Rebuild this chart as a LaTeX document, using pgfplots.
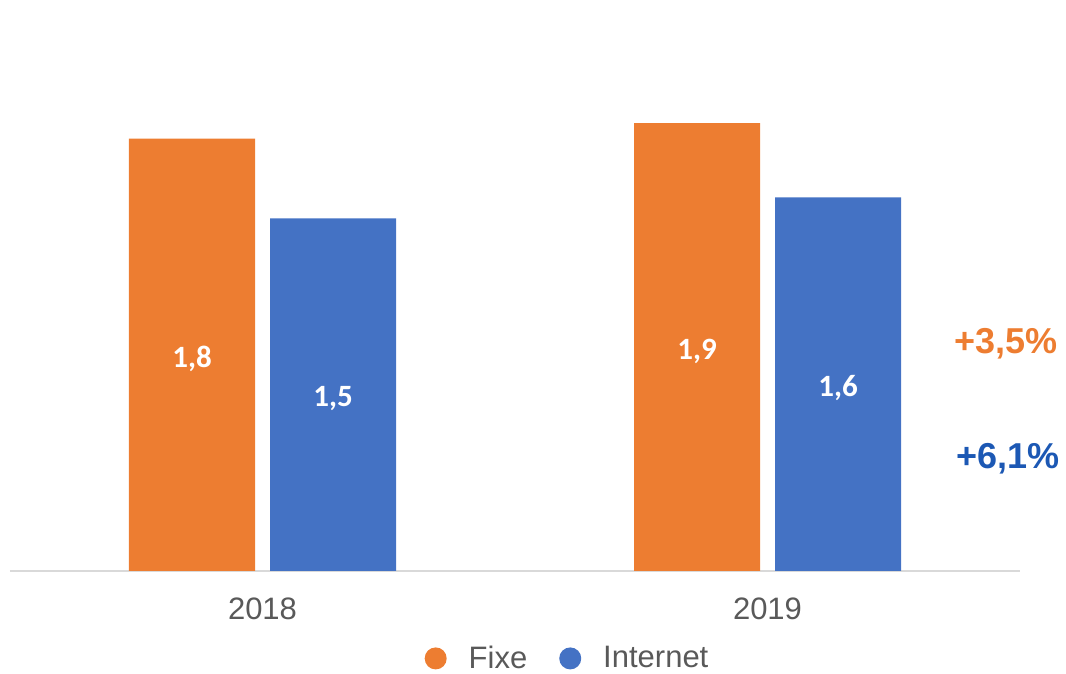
\documentclass[border=0pt]{standalone}
\usepackage{pgfplots}
\pgfplotsset{compat=1.18}
\usepackage{fontspec}
\setmainfont{Liberation Sans}
\newfontfamily\carlito{Carlito}
\definecolor{cFixe}{HTML}{ED7D31}
\definecolor{cNet}{HTML}{4472C4}
\definecolor{cNetTxt}{HTML}{1C58B4}
\definecolor{cTxt}{HTML}{595959}
\definecolor{cAx}{HTML}{D9D9D9}
\begin{document}
\begin{tikzpicture}
\path[use as bounding box] (0,0) rectangle (533pt,337pt);
\begin{axis}[
  at={(5pt,51.5pt)}, anchor=south west,
  scale only axis, width=505pt, height=282pt,
  xmin=-0.5, xmax=1.5, ymin=0, ymax=2.4,
  axis x line*=bottom, hide y axis,
  x axis line style={draw=cAx, line width=1pt, -},
  xtick={0,1}, xticklabels={2018,2019},
  major tick length=0pt,
  xticklabel style={font=\fontsize{15.5}{18}\selectfont, text=cTxt, yshift=-10pt},
  legend style={at={(0.553,-0.155)}, anchor=center, draw=none, fill=none,
    font=\fontsize{15.5}{18}\selectfont, text=cTxt, legend columns=2,
    /tikz/every odd column/.append style={column sep=9pt},
    /tikz/every even column/.append style={column sep=14pt}},
  legend image code/.code={\fill[#1] (3pt,0pt) circle (5.5pt);},
  clip=false,
]
\addplot[ybar, bar width=63pt, bar shift=-35.25pt, fill=cFixe, draw=none] coordinates {(0,1.84) (1,1.906)};
\addlegendentry{Fixe}
\addplot[ybar, bar width=63pt, bar shift=35.25pt, fill=cNet, draw=none] coordinates {(0,1.50) (1,1.59)};
\addlegendentry{Internet}
\addplot[draw=none, mark=none, forget plot, nodes near coords, point meta=explicit,
  nodes near coords={\pgfmathprintnumber[assume math mode=true,use comma,fixed,precision=1]{\pgfplotspointmeta}},
  every node near coord/.append style={anchor=center, xshift=-35.25pt, yshift=-2pt, text=white, font=\carlito\bfseries\fontsize{15.5}{18}\selectfont}]
  table[meta=v] {
x y v
0 0.92 1.84
1 0.953 1.906
};
\addplot[draw=none, mark=none, forget plot, nodes near coords, point meta=explicit,
  nodes near coords={\pgfmathprintnumber[assume math mode=true,use comma,fixed,precision=1]{\pgfplotspointmeta}},
  every node near coord/.append style={anchor=center, xshift=35.25pt, yshift=-2pt, text=white, font=\carlito\bfseries\fontsize{15.5}{18}\selectfont}]
  table[meta=v] {
x y v
0 0.75 1.50
1 0.795 1.59
};
\end{axis}
\node[text=cFixe, font=\bfseries\fontsize{18}{20}\selectfont] at (503pt,165pt) {+3,5\%};
\node[text=cNetTxt, font=\bfseries\fontsize{18}{20}\selectfont] at (504pt,107.5pt) {+6,1\%};
\end{tikzpicture}
\end{document}
